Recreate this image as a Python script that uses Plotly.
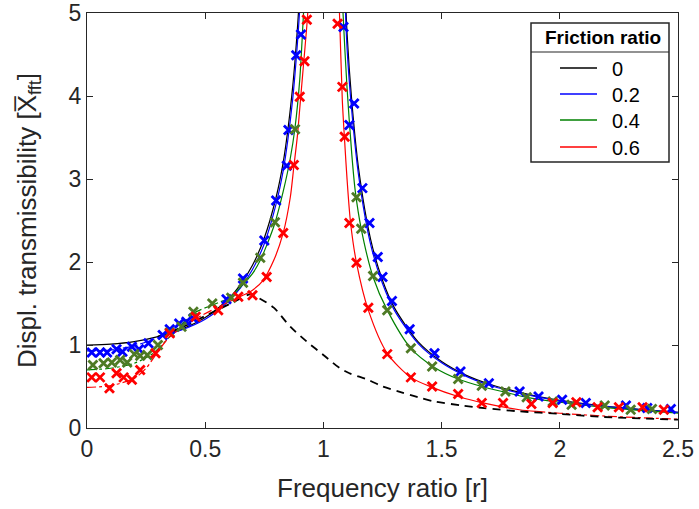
import plotly.graph_objects as go

# ---------------- data ----------------
friction_ratios = ["0", "0.2", "0.4", "0.6"]
legend_title = "Friction ratio"

# theoretical curves (solid = valid, dash-dot = non-valid region)
black_left_r = [0, 0.1, 0.2, 0.3, 0.4, 0.5, 0.6, 0.65, 0.7, 0.75, 0.8, 0.83, 0.85, 0.87, 0.88, 0.89, 0.9, 0.91]
black_left_y = [1.0, 1.01, 1.04, 1.10, 1.19, 1.33, 1.56, 1.73, 1.96, 2.29, 2.78, 3.20, 3.60, 4.11, 4.43, 4.81, 5.26, 5.77]
black_right_r = [1.09, 1.1, 1.12, 1.15, 1.2, 1.25, 1.3, 1.4, 1.5, 1.6, 1.7, 1.8, 1.9, 2.0, 2.2, 2.4, 2.5]
black_right_y = [5.48, 4.76, 3.94, 3.10, 2.27, 1.78, 1.45, 1.04, 0.80, 0.64, 0.53, 0.45, 0.385, 0.333, 0.26, 0.21, 0.19]

blue_dd_r = [0, 0.1, 0.2, 0.3]
blue_dd_y = [0.93, 0.94, 0.99, 1.09]
blue_left_r = [0.3, 0.4, 0.5, 0.6, 0.65, 0.7, 0.75, 0.8, 0.83, 0.85, 0.87, 0.88, 0.89, 0.9, 0.91]
blue_left_y = [1.09, 1.18, 1.31, 1.53, 1.69, 1.91, 2.22, 2.70, 3.10, 3.48, 3.96, 4.27, 4.63, 5.05, 5.5]
blue_right_r = [1.09, 1.1, 1.12, 1.15, 1.2, 1.25, 1.3, 1.4, 1.5, 1.6, 1.7, 1.8, 1.9, 2.0, 2.2, 2.4, 2.5]
blue_right_y = [5.3, 4.58, 3.82, 3.02, 2.21, 1.74, 1.42, 1.02, 0.785, 0.628, 0.518, 0.44, 0.378, 0.328, 0.257, 0.207, 0.188]

green_dd_r = [0, 0.1, 0.2, 0.28, 0.35, 0.45, 0.52, 0.6]
green_dd_y = [0.70, 0.72, 0.78, 0.90, 1.10, 1.38, 1.47, 1.56]
green_left_r = [0.6, 0.65, 0.7, 0.733, 0.76, 0.795, 0.83, 0.86, 0.88, 0.9, 0.915, 0.925]
green_left_y = [1.56, 1.70, 1.86, 2.02, 2.2, 2.47, 2.85, 3.25, 3.62, 4.2, 4.95, 5.5]
green_right_r = [1.075, 1.083, 1.1, 1.12, 1.135, 1.16, 1.21, 1.27, 1.37, 1.47, 1.57, 1.67, 1.77, 1.86, 2.0, 2.2, 2.5]
green_right_y = [5.6, 5.0, 4.1, 3.3, 2.85, 2.40, 1.82, 1.42, 0.96, 0.73, 0.59, 0.50, 0.43, 0.37, 0.31, 0.245, 0.178]

red_dd_left_r = [0, 0.1, 0.2, 0.25, 0.3, 0.35, 0.45, 0.55, 0.66]
red_dd_left_y = [0.49, 0.51, 0.60, 0.72, 0.92, 1.10, 1.30, 1.45, 1.6]
red_left_r = [0.66, 0.7, 0.745, 0.79, 0.83, 0.86, 0.875, 0.89, 0.9, 0.915, 0.93, 0.94]
red_left_y = [1.6, 1.66, 1.78, 2.02, 2.35, 2.78, 3.15, 3.52, 3.85, 4.35, 4.85, 5.25]
red_right_r = [1.06, 1.068, 1.08, 1.09, 1.10, 1.115, 1.14, 1.19, 1.27, 1.37, 1.46, 1.57, 1.68, 1.83, 1.9]
red_right_y = [5.6, 5.0, 3.95, 3.45, 3.0, 2.47, 1.99, 1.42, 0.90, 0.61, 0.49, 0.38, 0.30, 0.22, 0.20]
red_dd_right_r = [1.9, 2.0, 2.2, 2.5]
red_dd_right_y = [0.20, 0.178, 0.142, 0.106]

# boundary curve (black dashed)
bound_r = [0.3, 0.4, 0.5, 0.6, 0.65, 0.69, 0.73, 0.79, 0.86, 0.93, 1.0, 1.07, 1.11, 1.19, 1.25, 1.33,
           1.40, 1.47, 1.59, 1.68, 1.83, 2.0, 2.17, 2.5]
bound_y = [1.1, 1.21, 1.35, 1.49, 1.56, 1.61, 1.56, 1.45, 1.22, 1.04, 0.88, 0.72, 0.66, 0.58, 0.50, 0.43,
           0.37, 0.32, 0.27, 0.24, 0.20, 0.17, 0.135, 0.10]

# experimental points (x markers)
blue_pts_r = [0.02, 0.055, 0.085, 0.125, 0.15, 0.19, 0.22, 0.26, 0.32, 0.35, 0.39, 0.42, 0.45, 0.59, 0.66,
              0.75, 0.80, 0.845, 0.852, 0.885, 0.905, 1.085, 1.11, 1.13, 1.165, 1.195, 1.23, 1.25, 1.29,
              1.365, 1.47, 1.58, 1.70, 1.83, 1.91, 2.01, 2.11, 2.28, 2.37, 2.47]
blue_pts_y = [0.91, 0.91, 0.91, 0.95, 0.92, 0.98, 0.95, 1.02, 1.12, 1.19, 1.26, 1.28, 1.32, 1.55, 1.80,
              2.26, 2.74, 3.16, 3.59, 4.49, 4.74, 4.83, 3.65, 3.91, 2.89, 2.47, 2.06, 1.82, 1.53,
              1.19, 0.90, 0.68, 0.54, 0.44, 0.38, 0.34, 0.30, 0.27, 0.24, 0.23]

green_pts_r = [0.025, 0.07, 0.105, 0.14, 0.17, 0.2, 0.225, 0.255, 0.30, 0.35, 0.40, 0.45, 0.53, 0.61,
               0.66, 0.733, 0.795, 0.88, 1.14, 1.16, 1.21, 1.27, 1.37, 1.46, 1.57, 1.67, 1.77, 1.86,
               1.97, 2.05, 2.19, 2.30, 2.39]
green_pts_y = [0.76, 0.78, 0.79, 0.82, 0.79, 0.89, 0.87, 0.88, 1.0, 1.15, 1.22, 1.40, 1.50, 1.57,
               1.75, 2.05, 2.48, 3.6, 2.78, 2.40, 1.83, 1.42, 0.96, 0.74, 0.59, 0.51, 0.44, 0.37,
               0.32, 0.28, 0.27, 0.22, 0.23]

red_pts_r = [0.02, 0.055, 0.095, 0.125, 0.155, 0.19, 0.225, 0.29, 0.35, 0.46, 0.555, 0.64, 0.70, 0.76,
             0.83, 0.875, 0.90, 0.92, 0.93, 1.06, 1.08, 1.09, 1.11, 1.14, 1.19, 1.27, 1.37, 1.46, 1.57,
             1.67, 1.76, 1.88, 1.97, 2.07, 2.16, 2.25, 2.35, 2.44]
red_pts_y = [0.61, 0.61, 0.48, 0.66, 0.61, 0.58, 0.70, 0.90, 1.14, 1.34, 1.42, 1.58, 1.60, 1.82,
             2.35, 3.17, 3.99, 4.42, 4.92, 4.87, 4.11, 3.51, 2.47, 1.99, 1.45, 0.89, 0.61, 0.50, 0.41,
             0.30, 0.30, 0.29, 0.30, 0.31, 0.25, 0.25, 0.25, 0.22]

x_ticks = [0, 0.5, 1, 1.5, 2, 2.5]
x_tick_labels = ["0", "0.5", "1", "1.5", "2", "2.5"]
y_ticks = [0, 1, 2, 3, 4, 5]
y_tick_labels = ["0", "1", "2", "3", "4", "5"]

# ---------------- styling ----------------
BLACK = "#000000"
BLUE = "#0000FF"
GREEN_LINE = "#008000"
GREEN_MK = "#4E7A25"
RED = "#FF0000"
FONT = "Liberation Sans, Arial, Helvetica, sans-serif"
AX = "#262626"
series_colors = [BLACK, BLUE, GREEN_LINE, RED]

fig = go.Figure()

def join(a, b):
    return list(a) + [None] + list(b)

def line(x, y, color, dash="solid", width=1.2, name=None):
    fig.add_trace(go.Scatter(x=x, y=y, mode="lines", name=name, showlegend=False,
                             line=dict(color=color, width=width, dash=dash, shape="spline", smoothing=0.8),
                             hoverinfo="skip"))

def pts(x, y, color):
    fig.add_trace(go.Scatter(x=x, y=y, mode="markers", showlegend=False,
                             marker=dict(symbol="x-thin", size=9, color=color,
                                         line=dict(color=color, width=2.8)),
                             hoverinfo="skip"))

line(join(black_left_r, black_right_r), join(black_left_y, black_right_y), BLACK, name=friction_ratios[0])
line(join(blue_left_r, blue_right_r), join(blue_left_y, blue_right_y), BLUE, name=friction_ratios[1])
line(join(green_left_r, green_right_r), join(green_left_y, green_right_y), GREEN_LINE, name=friction_ratios[2])
line(join(red_left_r, red_right_r), join(red_left_y, red_right_y), RED, name=friction_ratios[3])

line(blue_dd_r, blue_dd_y, BLUE, dash="dashdot")
line(green_dd_r, green_dd_y, GREEN_LINE, dash="dashdot")
line(red_dd_left_r, red_dd_left_y, RED, dash="dashdot")
line(red_dd_right_r, red_dd_right_y, RED, dash="dashdot")
line(bound_r, bound_y, BLACK, dash="8px,6px", width=1.8)

pts(blue_pts_r, blue_pts_y, BLUE)
pts(green_pts_r, green_pts_y, GREEN_MK)
pts(red_pts_r, red_pts_y, RED)

# plot area in page pixels (page body margin removed below)
L, R, T, B = 87, 678, 13, 428
W, H = 699, 509
pw, ph = R - L, B - T

def px_x(p):
    return (p - L) / pw

def px_y(p):
    return (B - p) / ph

# legend box, separator, title and entries
fig.add_shape(type="rect", xref="paper", yref="paper",
              x0=px_x(531), x1=px_x(669), y0=px_y(162), y1=px_y(23),
              line=dict(color="#262626", width=1.5), fillcolor="white", layer="above")
fig.add_shape(type="line", xref="paper", yref="paper",
              x0=px_x(531), x1=px_x(669), y0=px_y(52), y1=px_y(52),
              line=dict(color="#262626", width=1.2), layer="above")
fig.add_annotation(text="<b>" + legend_title + "</b>", xref="paper", yref="paper",
                   x=px_x(603), y=px_y(38), xanchor="center", yanchor="middle",
                   showarrow=False, font=dict(size=19, color="black", family=FONT))
legend_rows = [68, 94, 120, 147]
for name, col, ry in zip(friction_ratios, series_colors, legend_rows):
    fig.add_shape(type="line", xref="paper", yref="paper",
                  x0=px_x(560), x1=px_x(597), y0=px_y(ry), y1=px_y(ry),
                  line=dict(color=col, width=1.3), layer="above")
    fig.add_annotation(text=name, xref="paper", yref="paper",
                       x=px_x(610), y=px_y(ry + 1), xanchor="left", yanchor="middle",
                       showarrow=False, font=dict(size=20, color="black", family=FONT))

fig.update_layout(
    width=W, height=H,
    margin=dict(l=L, r=W - R, t=T, b=H - B, pad=0, autoexpand=False),
    paper_bgcolor="white", plot_bgcolor="white",
    font=dict(family=FONT, color=AX),
    showlegend=False,
    xaxis=dict(
        range=[0, 2.5], tickvals=x_ticks, ticktext=x_tick_labels, automargin=False,
        ticks="inside", ticklen=6, tickwidth=1, tickcolor=AX, ticklabeloverflow="allow",
        showline=True, linecolor=AX, linewidth=1.2, mirror="ticks",
        showgrid=False, zeroline=False,
        tickfont=dict(size=23, color=AX, family=FONT),
        title=dict(text="Frequency ratio [r]", font=dict(size=26, color=AX, family=FONT), standoff=18),
    ),
    yaxis=dict(
        range=[0, 5], tickvals=y_ticks, ticktext=y_tick_labels, automargin=False,
        ticks="inside", ticklen=6, tickwidth=1, tickcolor=AX, ticklabeloverflow="allow",
        showline=True, linecolor=AX, linewidth=1.2, mirror="ticks",
        showgrid=False, zeroline=False,
        tickfont=dict(size=23, color=AX, family=FONT),
        title=dict(text="Displ. transmissibility [X\u0305<sub>fft</sub>]", font=dict(size=26, color=AX, family=FONT), standoff=24),
    ),
)

fig.write_html("out.html", config={"displayModeBar": False},
               post_script="document.body.style.margin='0';")
